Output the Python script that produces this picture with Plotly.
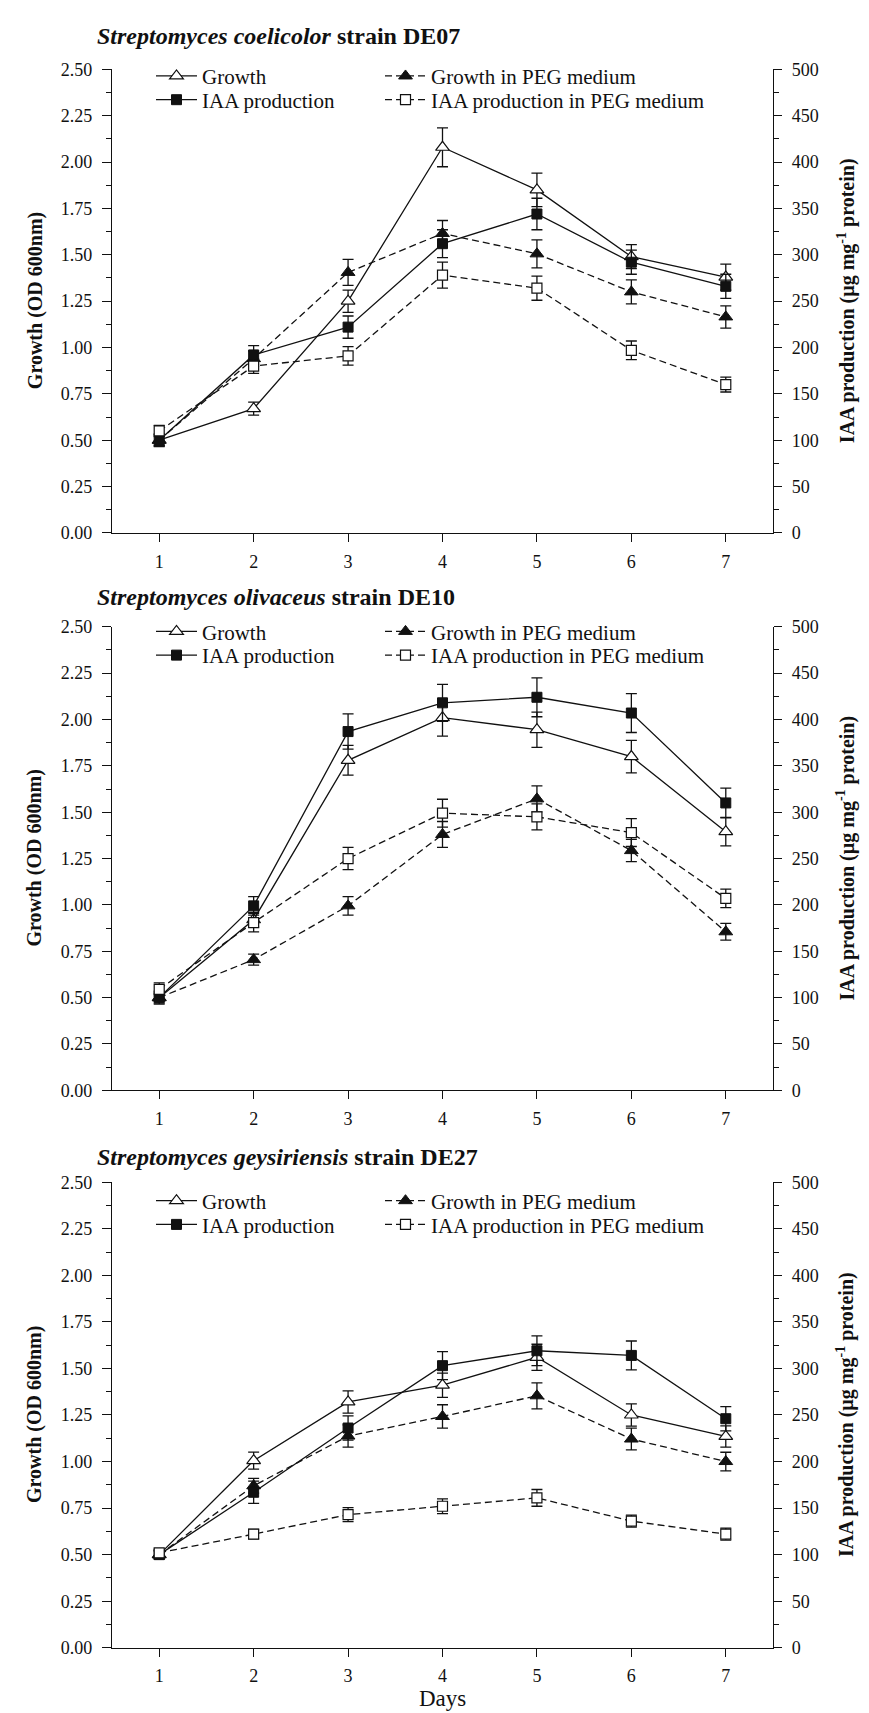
import plotly.graph_objects as go

days = [1, 2, 3, 4, 5, 6, 7]

panel_titles = [
    "<b><i>Streptomyces coelicolor</i> strain DE07</b>",
    "<b><i>Streptomyces olivaceus</i> strain DE10</b>",
    "<b><i>Streptomyces geysiriensis</i> strain DE27</b>",
]

# ---- DE07 ----
growth_de07 = [0.50, 0.67, 1.25, 2.08, 1.85, 1.49, 1.38]
growth_de07_err = [0.03, 0.035, 0.06, 0.105, 0.09, 0.065, 0.07]
iaa_de07 = [100, 192, 222, 312, 344, 292, 266]
iaa_de07_err = [7, 10, 12, 15, 17, 13, 13]
growth_peg_de07 = [0.50, 0.94, 1.405, 1.615, 1.505, 1.30, 1.165]
growth_peg_de07_err = [0.03, 0.04, 0.07, 0.07, 0.075, 0.065, 0.06]
iaa_peg_de07 = [110, 180, 191, 278, 264, 197, 160]
iaa_peg_de07_err = [6, 8, 10, 14, 13, 10, 8]

# ---- DE10 ----
growth_de10 = [0.50, 0.92, 1.78, 2.01, 1.945, 1.80, 1.395]
growth_de10_err = [0.03, 0.04, 0.08, 0.10, 0.095, 0.088, 0.077]
iaa_de10 = [100, 199, 387, 418, 424, 407, 310]
iaa_de10_err = [7, 10, 19, 20, 21, 21, 16]
growth_peg_de10 = [0.50, 0.705, 0.995, 1.38, 1.572, 1.293, 0.855]
growth_peg_de10_err = [0.02, 0.03, 0.05, 0.07, 0.07, 0.06, 0.045]
iaa_peg_de10 = [109, 181, 250, 299, 295, 278, 207]
iaa_peg_de10_err = [7, 10, 12, 15, 14, 15, 10]

# ---- DE27 ----
growth_de27 = [0.50, 1.005, 1.32, 1.41, 1.56, 1.25, 1.135]
growth_de27_err = [0.02, 0.046, 0.06, 0.065, 0.07, 0.06, 0.057]
iaa_de27 = [100, 167, 236, 303, 319, 314, 246]
iaa_de27_err = [5, 12, 13, 15, 16, 15.5, 13]
growth_peg_de27 = [0.50, 0.87, 1.137, 1.242, 1.353, 1.121, 1.00]
growth_peg_de27_err = [0.02, 0.04, 0.06, 0.063, 0.07, 0.058, 0.05]
iaa_peg_de27 = [102, 122, 143, 152, 161, 136, 122]
iaa_peg_de27_err = [4, 5, 7.5, 8, 9, 6.5, 6.5]

left_ticks = [0, 0.25, 0.5, 0.75, 1.0, 1.25, 1.5, 1.75, 2.0, 2.25, 2.5]
right_ticks = [0, 50, 100, 150, 200, 250, 300, 350, 400, 450, 500]

panels = [
    (growth_de07, growth_de07_err, iaa_de07, iaa_de07_err,
     growth_peg_de07, growth_peg_de07_err, iaa_peg_de07, iaa_peg_de07_err),
    (growth_de10, growth_de10_err, iaa_de10, iaa_de10_err,
     growth_peg_de10, growth_peg_de10_err, iaa_peg_de10, iaa_peg_de10_err),
    (growth_de27, growth_de27_err, iaa_de27, iaa_de27_err,
     growth_peg_de27, growth_peg_de27_err, iaa_peg_de27, iaa_peg_de27_err),
]

W, H = 869, 1713
FONT = "Liberation Serif"
BLACK = "#111111"

def px_x(p):
    return p / W

def px_y(p):
    return 1 - p / H

# pixel geometry of panels (top, bottom)
panel_px = [(52, 521), (616, 1085), (1178, 1649)]
title_px = [18, 586, 1152]
legend_rows_px = [(59, 83), (621, 645), (1197, 1221)]
legend_cols_px = (143, 372)
x_left, x_right = 104, 765

fig = go.Figure()
layout = dict(
    width=W, height=H,
    paper_bgcolor="white", plot_bgcolor="white",
    margin=dict(l=0, r=0, t=0, b=0),
    font=dict(family=FONT, color=BLACK, size=18),
    showlegend=True,
)
annotations = []

LW = 1.3
DASH = "7px,4px"
legend_count = [0]

def new_legend(xpx, ypx):
    legend_count[0] += 1
    n = legend_count[0]
    key = "legend" if n == 1 else f"legend{n}"
    layout[key] = dict(
        orientation="h", x=px_x(xpx), xanchor="left",
        y=px_y(ypx), yanchor="middle", itemwidth=41,
        bgcolor="rgba(0,0,0,0)", borderwidth=0,
        font=dict(family=FONT, size=21, color=BLACK),
    )
    return key

for i, (g, ge, a, ae, gp, gpe, ap, ape) in enumerate(panels):
    xid = "x" if i == 0 else f"x{i+1}"
    yl = "y" if i == 0 else f"y{2*i+1}"
    yr = f"y{2*i+2}"
    r1, r2 = legend_rows_px[i]
    c1, c2 = legend_cols_px

    common = dict(x=days, mode="lines+markers", xaxis=xid)

    fig.add_trace(go.Scatter(
        **common, y=g, yaxis=yl, name="Growth", legend=new_legend(c1, r1),
        line=dict(color=BLACK, width=LW),
        marker=dict(symbol="triangle-up", size=12, color="white",
                    line=dict(color=BLACK, width=1.2)),
        error_y=dict(type="data", array=ge, color=BLACK, thickness=LW, width=5.5),
    ))
    fig.add_trace(go.Scatter(
        **common, y=gp, yaxis=yl, name="Growth in PEG medium", legend=new_legend(c2, r1),
        line=dict(color=BLACK, width=LW, dash=DASH),
        marker=dict(symbol="triangle-up", size=12, color=BLACK,
                    line=dict(color=BLACK, width=1)),
        error_y=dict(type="data", array=gpe, color=BLACK, thickness=LW, width=5.5),
    ))
    fig.add_trace(go.Scatter(
        **common, y=a, yaxis=yr, name="IAA production", legend=new_legend(c1, r2),
        line=dict(color=BLACK, width=LW),
        marker=dict(symbol="square", size=10, color=BLACK,
                    line=dict(color=BLACK, width=1)),
        error_y=dict(type="data", array=ae, color=BLACK, thickness=LW, width=5.5),
    ))
    fig.add_trace(go.Scatter(
        **common, y=ap, yaxis=yr, name="IAA production in PEG medium",
        legend=new_legend(c2, r2),
        line=dict(color=BLACK, width=LW, dash=DASH),
        marker=dict(symbol="square", size=10, color="white",
                    line=dict(color=BLACK, width=1.2)),
        error_y=dict(type="data", array=ape, color=BLACK, thickness=LW, width=5.5),
    ))

    top, bot = panel_px[i]
    ydom = [px_y(bot), px_y(top)]
    xkey = "xaxis" if i == 0 else f"xaxis{i+1}"
    ylkey = "yaxis" if i == 0 else f"yaxis{2*i+1}"
    yrkey = f"yaxis{2*i+2}"

    layout[xkey] = dict(
        domain=[px_x(x_left), px_x(x_right)], anchor=yl,
        range=[0.5, 7.5], tickvals=days, ticktext=[str(d) for d in days],
        showline=True, linecolor=BLACK, linewidth=LW, mirror=False,
        ticks="outside", ticklen=8, tickwidth=LW, tickcolor=BLACK,
        showgrid=False, zeroline=False, ticklabelstandoff=4,
        tickfont=dict(family=FONT, size=18, color=BLACK),
        fixedrange=True,
    )
    layout[ylkey] = dict(
        domain=ydom, anchor=xid, range=[0, 2.5],
        tickvals=left_ticks, ticktext=[f"{v:.2f}" for v in left_ticks],
        showline=True, linecolor=BLACK, linewidth=LW,
        ticks="outside", ticklen=9, tickwidth=LW, tickcolor=BLACK,
        minor=dict(dtick=0.125, tick0=0, ticks="outside", ticklen=5,
                   tickwidth=LW, tickcolor=BLACK, showgrid=False),
        showgrid=False, zeroline=False, ticklabelstandoff=6,
        tickfont=dict(family=FONT, size=18, color=BLACK),
    )
    layout[yrkey] = dict(
        domain=ydom, anchor=xid, overlaying=yl, side="right", range=[0, 500],
        tickvals=right_ticks, ticktext=[str(v) for v in right_ticks],
        showline=True, linecolor=BLACK, linewidth=LW,
        ticks="outside", ticklen=8, tickwidth=LW, tickcolor=BLACK,
        minor=dict(dtick=25, tick0=0, ticks="outside", ticklen=5,
                   tickwidth=LW, tickcolor=BLACK, showgrid=False),
        showgrid=False, zeroline=False, ticklabelstandoff=6,
        tickfont=dict(family=FONT, size=18, color=BLACK),
    )

    annotations.append(dict(
        text=panel_titles[i], xref="paper", yref="paper",
        x=px_x(87), y=px_y(title_px[i]), xanchor="left", yanchor="middle",
        showarrow=False, font=dict(family=FONT, size=24, color=BLACK),
    ))
    mid = (top + bot) / 2
    annotations.append(dict(
        text="<b>Growth (OD 600nm)</b>", xref="paper", yref="paper",
        x=px_x(27), y=px_y(mid), xanchor="center", yanchor="middle",
        textangle=-90, showarrow=False,
        font=dict(family=FONT, size=20, color=BLACK),
    ))
    annotations.append(dict(
        text="<b>IAA production (µg mg<sup>-1</sup> protein)</b>", xref="paper", yref="paper",
        x=px_x(838), y=px_y(mid), xanchor="center", yanchor="middle",
        textangle=-90, showarrow=False,
        font=dict(family=FONT, size=20, color=BLACK),
    ))

annotations.append(dict(
    text="Days", xref="paper", yref="paper",
    x=px_x((x_left + x_right) / 2), y=px_y(1700), xanchor="center", yanchor="middle",
    showarrow=False, font=dict(family=FONT, size=23, color=BLACK),
))

layout["annotations"] = annotations
fig.update_layout(**layout)
fig.write_html("out.html")
